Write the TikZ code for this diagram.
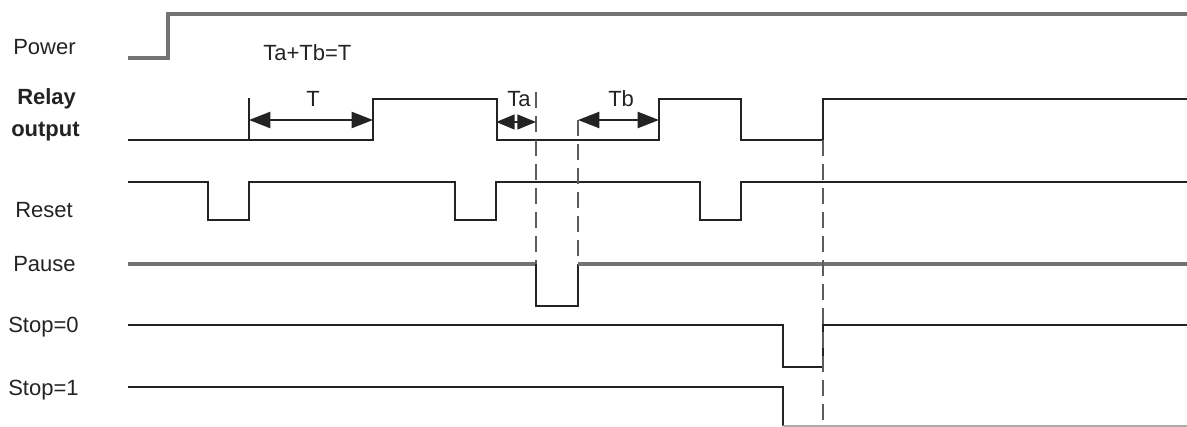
\documentclass[tikz,border=0pt]{standalone}
\usepackage{fontspec}
\setmainfont{Liberation Sans}
\usetikzlibrary{arrows.meta}
\definecolor{wavegray}{RGB}{115,115,115}
\definecolor{wavedark}{RGB}{35,35,35}
\tikzset{
  wave/.style={draw=wavedark, line width=1.5pt},
  wavelight/.style={draw=wavegray, line width=2.3pt},
  guide/.style={draw=wavegray!80!black, line width=1.8pt, dash pattern=on 12pt off 6pt},
  dimarrow/.style={draw=wavedark, line width=1.8pt, {Triangle[length=16pt,width=12pt]}-{Triangle[length=16pt,width=12pt]}},
  siglabel/.style={anchor=base west, inner sep=0.75pt, text=wavedark, font=\fontsize{16.5}{19}\selectfont},
}

\begin{document}
\begin{tikzpicture}[x=0.75pt,y=0.75pt,yscale=-1,xscale=1]
\useasboundingbox (0,0) rectangle (1187,427);

%Signal: Power
\draw [wavelight] (128,58) -- (168,58) -- (168,14) -- (1187,14) ;
%Signal: Relay output
\draw [wave] (128,140) -| (373,99) -| (497,140) -| (659,99) -| (741,140) -| (823,99) -- (1187,99) ;
%Signal: Reset
\draw [wave] (128,182) -| (208,220) -| (249,182) -| (455,220) -| (496,182) -| (700,220) -| (741,182) -- (1187,182) ;
%Signal: Pause
\draw [wavelight] (128,264) -- (536,264) ;
\draw [wave] (536,264) |- (578,306) -- (578,264) ;
\draw [wavelight] (578,264) -- (1187,264) ;
%Signal: Stop=0
\draw [wave] (128,325) -| (783,367) -| (823,325) -- (1187,325) ;
%Signal: Stop=1
\draw [wave] (128,387) -| (783,426) ;
\draw [draw=wavegray!60, line width=1pt] (783,426) -- (1187,426) ;

%Dashed guides
\draw [guide] (536,92) -- (536,264) ;
\draw [guide] (578,120) -- (578,264) ;
\draw [guide] (823,140) -- (823,427) ;
%Tick for T
\draw [wave] (249,98) -- (249,140) ;

%Dimension arrows
\coordinate (tStart) at (249,120) ;
\coordinate (tEnd) at (373,120) ;
\coordinate (taStart) at (496,122) ;
\coordinate (taEnd) at (536,122) ;
\coordinate (tbStart) at (578,120) ;
\coordinate (tbEnd) at (659,120) ;
\draw [dimarrow] (tStart) -- (tEnd) ;
\draw [dimarrow, {Triangle[length=14pt,width=11pt]}-{Triangle[length=14pt,width=11pt]}] (taStart) -- (taEnd) ;
\draw [dimarrow] (tbStart) -- (tbEnd) ;

% Text Node
\node (power) at (12,55) [siglabel] {Power};
% Text Node
\node (relay) at (16,105) [siglabel] {\bfseries Relay};
% Text Node
\node (output) at (10,137) [siglabel] {\bfseries output};
% Text Node
\node (reset) at (14,218) [siglabel] {Reset};
% Text Node
\node (pause) at (12,272) [siglabel] {Pause};
% Text Node
\node (stopzero) at (7,332) [siglabel] {Stop=0};
% Text Node
\node (stopone) at (7,395) [siglabel] {Stop=1};
% Text Node
\node (sumlabel) at (262,61) [siglabel] {Ta+Tb=T};
% Text Node
\node (tlabel) at (305,107) [siglabel] {T};
% Text Node
\node (talabel) at (506,107) [siglabel] {Ta};
% Text Node
\node (tblabel) at (607,107) [siglabel] {Tb};

\end{tikzpicture}
\end{document}
